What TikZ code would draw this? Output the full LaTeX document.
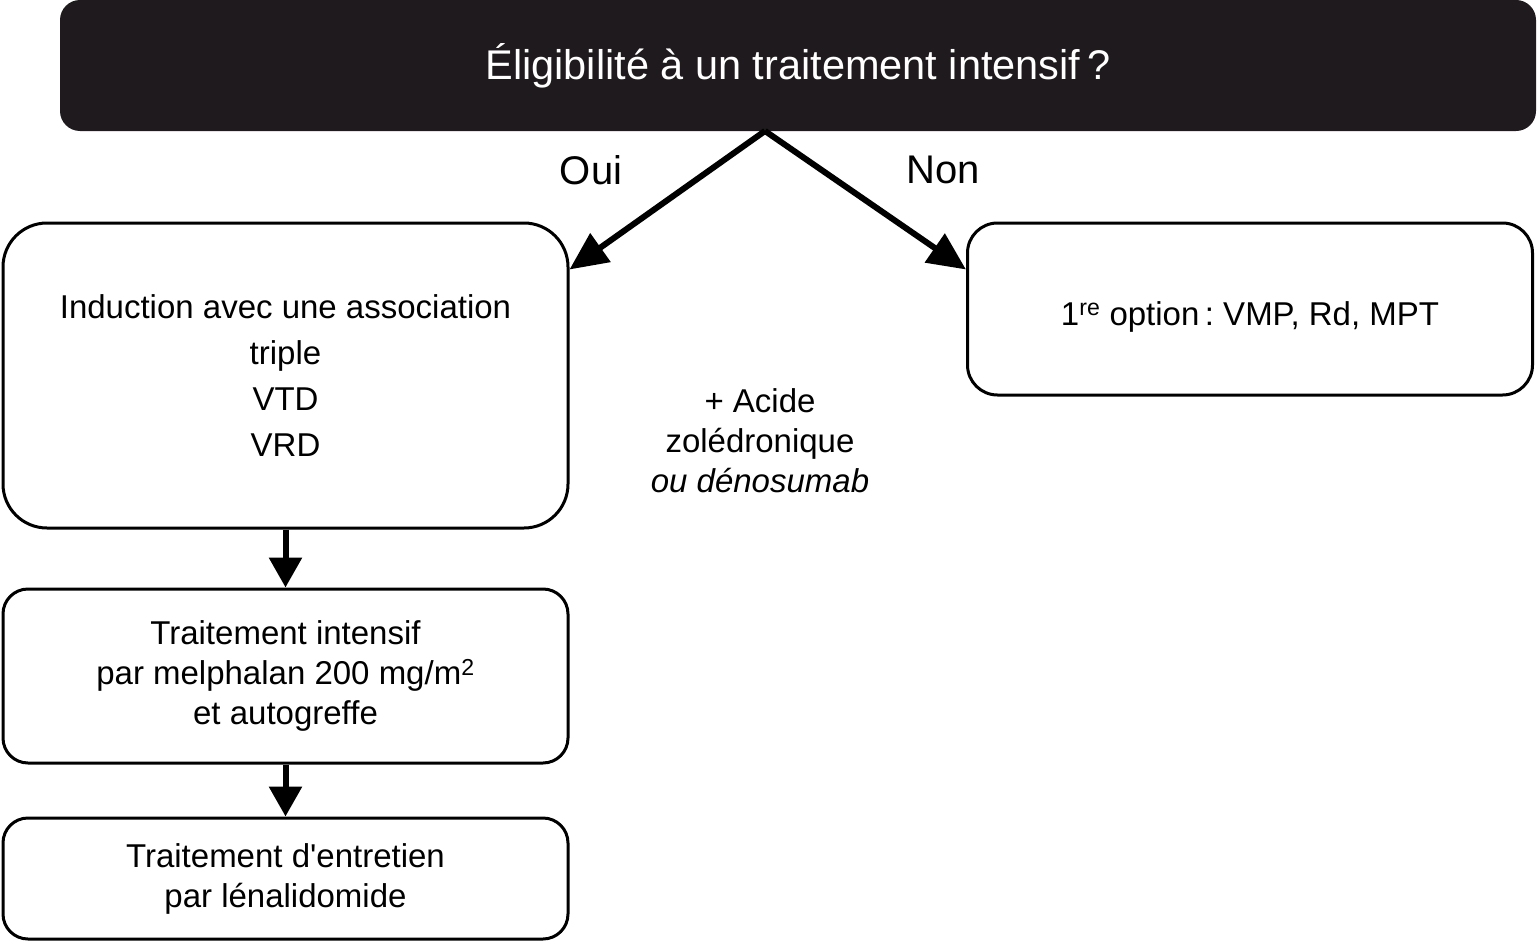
\documentclass[tikz,border=0pt]{standalone}
\usepackage{fontspec}
\setmainfont{Liberation Sans}[Ligatures=TeXOff]
\usetikzlibrary{arrows.meta,shapes}
\definecolor{titlecolor}{RGB}{30,26,29}
\colorlet{Tcolor}{titlecolor}
\frenchspacing

\begin{document}
\begin{tikzpicture}[x=1pt,y=-1pt,>={Triangle[length=38pt,width=34pt]}]

\useasboundingbox (0,0) rectangle (1537,942);

\node[fill=Tcolor,text=white,rounded corners=20pt,minimum width=1476pt,minimum height=131pt,inner sep=0pt,font=\fontsize{41.5}{49}\selectfont] (Q) at (798,65.5) {Éligibilité à un traitement intensif\,?};

\begin{scope}[every node/.style={draw,line width=3pt,align=center,inner sep=0pt,minimum width=565pt,fill=none,font=\fontsize{33}{40}\selectfont}]
\node[rounded corners=44pt,minimum height=305pt,font=\fontsize{33}{46}\selectfont] (ind) at (285.5,375.5) {Induction avec une association\\triple\\VTD\\VRD};
\node[rounded corners=30pt,minimum height=172pt,text height=36pt,text depth=4pt] (non) at (1250,309) {1\textsuperscript{re} option\,: VMP, Rd, MPT};
\node[rounded corners=25pt,minimum height=174pt] (intens) at (285.5,676) {Traitement intensif\\par melphalan 200 mg/m\textsuperscript{2}\\et autogreffe};
\node[rounded corners=25pt,minimum height=121pt] (entret) at (285.5,878.5) {Traitement d'entretien\\par lénalidomide};
\end{scope}

\node[align=center,font=\fontsize{33}{40}\selectfont] (acide) at (760,441) {+ Acide\\zolédronique\\\textit{ou dénosumab}};

\begin{scope}[every node/.style={font=\fontsize{40}{48}\selectfont,inner sep=0pt}]
\node (oui) at (591,170) {Oui};
\node (nonlab) at (943,170) {Non};
\end{scope}

\coordinate (fork) at (765,131);
\begin{scope}[line width=6pt]
  \draw[->] (fork) -- ([yshift=-48pt]ind.north east);
  \draw[->] (fork) -- ([yshift=-48pt]non.north west);
  \draw[->,>={Triangle[length=30pt,width=32pt]}] (ind) -- (intens);
  \draw[->,>={Triangle[length=30pt,width=32pt]}] (intens) -- (entret);
\end{scope}

\end{tikzpicture}
\end{document}
